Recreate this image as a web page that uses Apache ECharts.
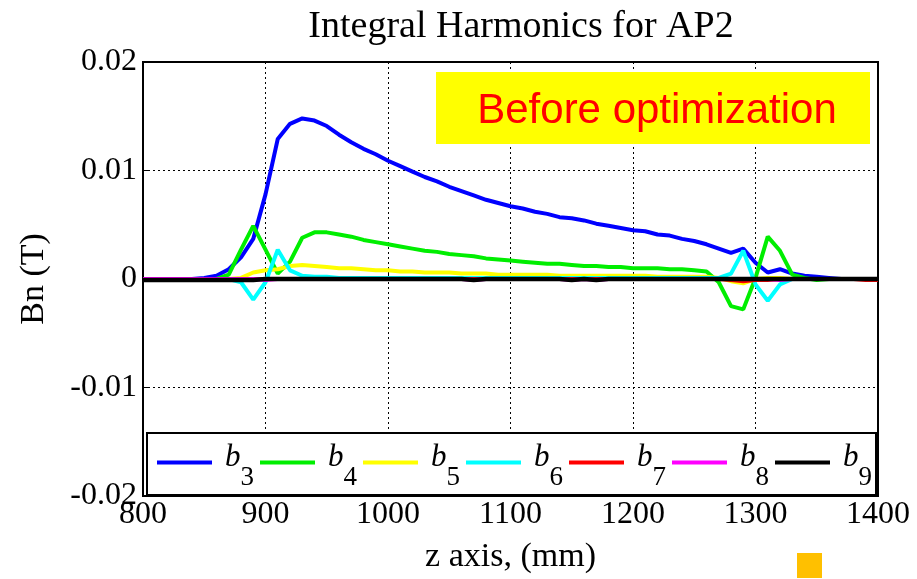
<!DOCTYPE html>
<html><head><meta charset="utf-8">
<script src="https://cdn.jsdelivr.net/npm/echarts@6/dist/echarts.min.js"></script>
<style>html,body{margin:0;padding:0;background:#fff}#c{width:917px;height:579px}</style>
</head><body><div id="c"></div>
<script>
var zValues = [];
for (var z = 800; z <= 1400; z += 10) zValues.push(z);

var xTicks = [800, 900, 1000, 1100, 1200, 1300, 1400];
var yTicks = [-0.02, -0.01, 0, 0.01, 0.02];

var b3 = [0,0,0,0,0,0.0001,0.0003,0.0009,0.002,0.0037,0.0078,0.0129,0.0143,0.0148,0.0146,0.0141,0.0133,0.0126,0.012,0.0115,0.0109,0.0104,0.0099,0.0094,0.009,0.0085,0.0081,0.0077,0.0073,0.007,0.0067,0.0065,0.0062,0.006,0.0057,0.0056,0.0054,0.0051,0.0049,0.0047,0.0045,0.0044,0.0041,0.004,0.0037,0.0035,0.0032,0.0028,0.0024,0.0028,0.0015,0.0006,0.0009,0.0005,0.0003,0.0002,0.0001,0,0,0,0];
var b4 = [0,0,0,0,0,0,0,0.0004,0.0027,0.0049,0.0027,0.0005,0.0016,0.0038,0.0043,0.0043,0.0041,0.0039,0.0036,0.0034,0.0032,0.003,0.0028,0.0026,0.0025,0.0023,0.0022,0.0021,0.0019,0.0018,0.0017,0.0016,0.0015,0.0014,0.0014,0.0013,0.0012,0.0012,0.0011,0.0011,0.001,0.001,0.001,0.0009,0.0009,0.0008,0.0007,-0.0003,-0.0025,-0.0028,0.0001,0.0039,0.0026,0.0004,0.0001,-0.0001,0,0,0,0,0];
var b5 = [0,0,0,0,0,0,0,0,0.0001,0.0006,0.0008,0.0009,0.0012,0.0013,0.0012,0.0011,0.001,0.001,0.0009,0.0008,0.0008,0.0007,0.0007,0.0006,0.0006,0.0006,0.0005,0.0005,0.0005,0.0004,0.0004,0.0004,0.0004,0.0004,0.0003,0.0003,0.0003,0.0003,0.0003,0.0003,0.0003,0.0003,0.0002,0.0002,0.0002,0.0002,0.0002,0.0001,-0.0002,-0.0004,0,0.0001,0.0001,0,0,0,0,0,0,0,0];
var b6 = [0,0,0,0,0,0,0,0,-0.0003,-0.0019,-0.0003,0.0027,0.0008,0.0003,0.0002,0.0002,0.0001,0.0001,0.0001,0.0001,0.0001,0.0001,0.0001,0.0001,0.0001,0.0001,0.0001,0.0001,0.0001,0.0001,0.0001,0.0001,0.0001,0.0001,0.0001,0.0001,0.0001,0.0001,0.0001,0.0001,0.0001,0.0001,0.0001,0.0001,0.0001,0.0001,0.0001,0.0001,0.0005,0.0026,-0.0005,-0.002,-0.0005,0,0,0,0,0,0,0,0];
var b7 = [0,0,0,0,0,0,0,0,0,0,0,0,0,0,0,0,0,0,0,0,0,0,0,0,0,0,0,0,0,0,0,0,0,0,0,0,0,0,0,0,0,0,0,0,0,0,0,0,-0.0001,-0.0002,-0.0001,-0.0001,0,0,0,0,0,0,0,-0.0001,-0.0001];
var b8 = [0,0,0,0,0,0,0,0,0,0,-0.0001,0,0,0,0,0,0,0,0,0,0,0,0,0,0,0,0,-0.0001,0,0,0,0,0,0,0,-0.0001,0,-0.0001,0,0,0,0,0,0,0,0,0,0,0,0,0,0,-0.0001,0,0,0,0,0,0,0,0];
var b9 = [-0.0001,-0.0001,-0.0001,-0.0001,-0.0001,-0.0001,-0.0001,-0.0001,-0.0001,-0.0001,0,0,0,0,0,0,0,0,0,0,0,0,0,0,0,0,0,-0.0001,0,0,0,0,0,0,0,-0.0001,0,-0.0001,0,0,0,0,0,0,0,0,0,0,0,0,0,0,0,0,0,0,0,0,0,0,0];

var seriesNames = ['b3','b4','b5','b6','b7','b8','b9'];
var seriesData = [b3,b4,b5,b6,b7,b8,b9];
var seriesColors = ['#0000ff','#00ee00','#ffff00','#00ffff','#ff0000','#ff00ff','#000000'];
var seriesWidths = [4,4,4,4,4,4,4.5];

var FONT = 'Liberation Serif';
var chart = echarts.init(document.getElementById('c'));
var series = seriesNames.map(function(n,i){
  return {
    name: n, type: 'line', showSymbol: false, symbol: 'none', animation: false,
    data: zValues.map(function(z,k){ return [z, seriesData[i][k]]; }),
    lineStyle: {color: seriesColors[i], width: seriesWidths[i]},
    itemStyle: {color: seriesColors[i]}
  };
});
chart.setOption({
  animation: false,
  title: {text: 'Integral Harmonics for AP2', left: 516, textAlign: 'center', top: 3,
    textStyle: {fontFamily: FONT, fontWeight: 'normal', fontSize: 38, color: '#000'}},
  grid: {left: 143, right: 39, top: 62, bottom: 76, show: true, borderColor: '#000', borderWidth: 2},
  xAxis: {type: 'value', min: 800, max: 1400, interval: 100,
    name: 'z axis, (mm)', nameLocation: 'middle', nameGap: 44,
    nameTextStyle: {fontFamily: FONT, fontSize: 34, color: '#000'},
    axisLine: {show: false},
    axisTick: {show: true, inside: true, length: 5, lineStyle: {color: '#000', width: 1}},
    axisLabel: {fontFamily: FONT, fontSize: 32, color: '#000', margin: 3,
      formatter: function(v){ return xTicks.indexOf(v) >= 0 ? String(v) : ''; }},
    splitLine: {show: true, lineStyle: {color: '#000', type: [2,3], width: 1}}},
  yAxis: {type: 'value', min: -0.02, max: 0.02, interval: 0.01,
    name: 'Bn (T)', nameLocation: 'middle', nameGap: 92, nameRotate: 90,
    nameTextStyle: {fontFamily: FONT, fontSize: 34, color: '#000'},
    axisLine: {show: false},
    axisTick: {show: true, inside: true, length: 5, lineStyle: {color: '#000', width: 1}},
    axisLabel: {fontFamily: FONT, fontSize: 32, color: '#000', margin: 6,
      formatter: function(v){
        var r = Math.round(v*100)/100;
        for (var i=0;i<yTicks.length;i++) if (Math.abs(yTicks[i]-r)<1e-9) return r===0?'0':String(r);
        return '';
      }},
    splitLine: {show: true, lineStyle: {color: '#000', type: [2,3], width: 1}}},
  legend: {left: 147, top: 433, orient: 'horizontal', backgroundColor: '#fff',
    borderColor: '#000', borderWidth: 2, padding: [1, 4, 4, 10], itemGap: 6,
    itemWidth: 55, itemHeight: 4, icon: 'rect',
    data: seriesNames,
    formatter: function(n){ return '{b|b}{s|' + n.slice(1) + '}'; },
    textStyle: {fontFamily: FONT, color: '#000', padding: [0,0,0,8],
      rich: {
        b: {fontFamily: FONT, fontStyle: 'italic', fontSize: 31, color: '#000', lineHeight: 31, padding: [0,0,10,0]},
        s: {fontFamily: FONT, fontSize: 27, color: '#000', lineHeight: 27, padding: [30,0,0,0]}
      }}},
  graphic: [
    {type: 'rect', shape: {x: 436, y: 72, width: 434, height: 72}, style: {fill: '#ffff00'}, z: 10},
    {type: 'text', x: 657, y: 111, z: 11, style: {text: 'Before optimization', fill: '#ff0000',
      font: '42px "Liberation Sans"', textAlign: 'center', textVerticalAlign: 'middle'}},
    {type: 'rect', shape: {x: 797, y: 553, width: 25, height: 25}, style: {fill: '#ffc000'}, z: 10}
  ],
  series: series
});
</script></body></html>
